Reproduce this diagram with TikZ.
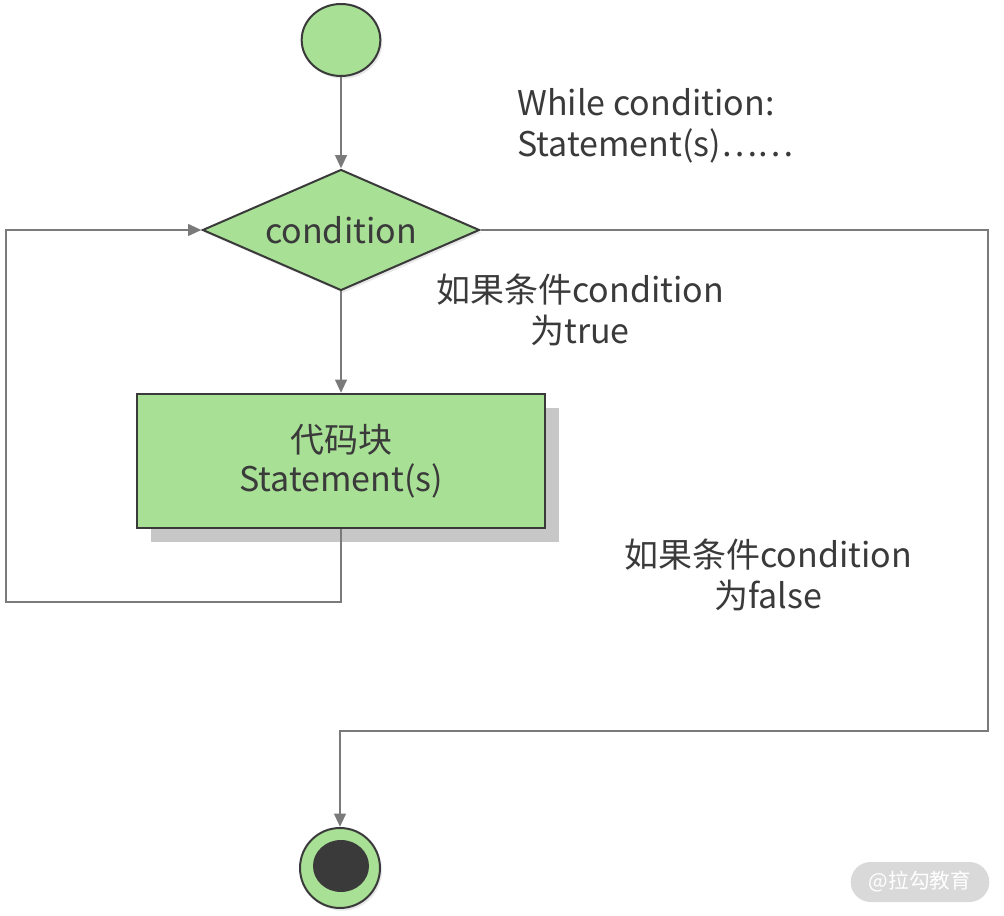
\documentclass[tikz,border=0pt]{standalone}
\usepackage{fontspec}
\newfontfamily\cjk{Noto Sans CJK SC}
\usetikzlibrary{shapes,arrows.meta,shadows}
\definecolor{nodegreen}{HTML}{A8E096}
\definecolor{edgegray}{HTML}{7A7A7A}
\definecolor{textgray}{HTML}{3A3A3A}
\tikzstyle{nd}=[draw=textgray,line width=1.5pt,fill=nodegreen,text=textgray,font=\cjk\fontsize{25.5}{29.5}\selectfont,align=center,inner sep=0pt]
\tikzstyle{ln}=[draw=edgegray,line width=2.2pt,-{Triangle[length=10pt,width=8.5pt]}]
\tikzstyle{lbl}=[text=textgray,font=\cjk\fontsize{25.5}{30.5}\selectfont,align=center,inner sep=0pt]
\tikzstyle{soft}=[drop shadow={shadow xshift=1.5pt,shadow yshift=-2pt,opacity=.18}]

\begin{document}
\begin{tikzpicture}[x=0.75pt,y=-0.75pt]
		\useasboundingbox (0,0) rectangle (1004,916);
		% shapes
		\node[nd,ellipse,soft,minimum width=59pt,minimum height=54pt] (start) at (341,40) {};
		\node[nd,diamond,aspect=2.3,soft,minimum width=207.75pt,minimum height=90.75pt] (cond) at (341,230) {condition};
		\node[nd,rectangle,minimum width=306pt,minimum height=100.5pt,
			drop shadow={shadow xshift=10.5pt,shadow yshift=-10.5pt,fill=black!22,opacity=1}] (body) at (341,461) {代码块\\Statement(s)};
		\node[nd,ellipse,soft,minimum width=60pt,minimum height=60pt] (stop) at (340,868) {};
		\node[ellipse,fill=textgray,minimum width=42pt,minimum height=39pt,inner sep=0pt] (stopdot) at (341,866) {};
		% turning points
		\coordinate (loopbl) at (6,602);
		\coordinate (exitr) at (988,731);
		% connectors
		\draw[ln] (start) -- (cond);
		\draw[ln] (cond) -- (body);
		\draw[ln] (body.south) |- (loopbl) |- (cond.west);
		\draw[ln] (cond.east) -| (exitr) -| (stop.north);
		% texts
		\node[lbl,anchor=west,align=left] (code) at (517,126) {While condition:\\Statement(s)……};
		\node[lbl] (truelbl) at (580,310) {如果条件condition\\为true};
		\node[lbl] (falselbl) at (768,575) {如果条件condition\\为false};
		% mark
		\node[fill=black!15,rounded corners=15pt,minimum width=104pt,minimum height=30pt,text=white,font=\cjk\fontsize{15.5}{15.5}\selectfont] (mark) at (920,882) {@拉勾教育};
	\end{tikzpicture}
\end{document}
